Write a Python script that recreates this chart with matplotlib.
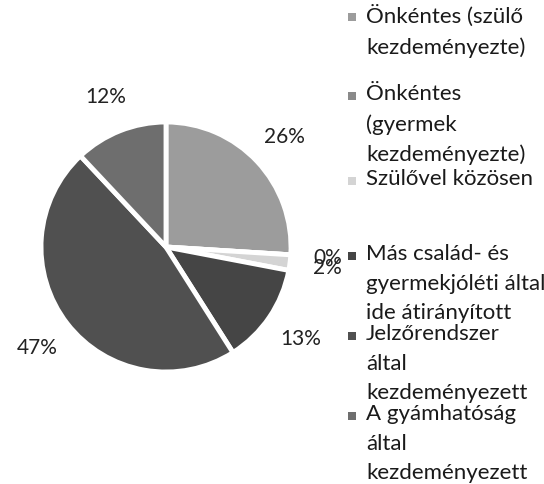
import matplotlib
matplotlib.use("Agg")
import matplotlib.pyplot as plt
from matplotlib.patches import Rectangle

categories = [
    "Önkéntes (szülő\nkezdeményezte)",
    "Önkéntes\n(gyermek\nkezdeményezte)",
    "Szülővel közösen",
    "Más család- és\ngyermekjóléti által\nide átirányított",
    "Jelzőrendszer\náltal\nkezdeményezett",
    "A gyámhatóság\náltal\nkezdeményezett",
]
values = [26, 0, 2, 13, 47, 12]
colors = ["#9c9c9c", "#8a8a8a", "#d4d4d4", "#454545", "#505050", "#6e6e6e"]
legend_y = [18, 97, 182, 257, 337, 417]  # pixel centers of first line

W, H = 544, 485
fig = plt.figure(figsize=(W / 100, H / 100), dpi=100)
plt.rcParams['font.family'] = ['Lato', 'DejaVu Sans']

cx, cy, r = 166, 248, 125
ax = fig.add_axes([(cx - r) / W, (H - cy - r) / H, 2 * r / W, 2 * r / H])
ax.pie(values, colors=colors, startangle=90, counterclock=False,
       autopct='%1.0f%%', pctdistance=1.3,
       wedgeprops=dict(edgecolor='white', linewidth=3.5),
       textprops=dict(fontsize=15, color='#222222'))
ax.set_xlim(-1, 1)
ax.set_ylim(-1, 1)
ax.set_aspect('equal')
ax.axis('off')

for lab, col, yp in zip(categories, colors, legend_y):
    fig.patches.append(Rectangle((348 / W, (H - yp - 4) / H), 8 / W, 8 / H,
                                 transform=fig.transFigure, facecolor=col,
                                 edgecolor='none'))
    fig.text(366 / W, (H - yp + 13) / H, lab, fontsize=16, color='#1a1a1a',
             va='top', ha='left', linespacing=1.6,
             transform=fig.transFigure)

fig.savefig("out.png", dpi=100, facecolor='white')
